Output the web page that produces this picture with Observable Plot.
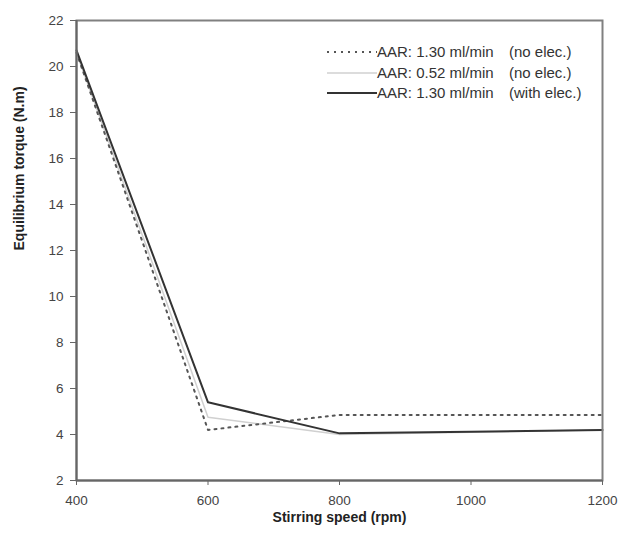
<!DOCTYPE html>
<html><head><meta charset="utf-8">
<script src="https://cdn.jsdelivr.net/npm/d3@7"></script>
<script src="https://cdn.jsdelivr.net/npm/@observablehq/plot@0.6"></script>
<style>
body{margin:0;background:#fff;}
#wrap{position:relative;width:618px;height:536px;font-family:"Liberation Sans",Arial,sans-serif;}
#legend{position:absolute;left:327px;top:42px;font-size:15px;color:#333;line-height:20.5px;}
#legend .row{display:flex;align-items:center;white-space:nowrap;}
#legend svg{width:50px;height:10px;display:block;}
#legend .a{width:132px;}
</style></head><body><div id="wrap"></div>
<script>
const speeds = [400, 600, 800, 1000, 1200];
const aar130NoElec = [20.6, 4.2, 4.85, 4.85, 4.85];
const aar052NoElec = [20.6, 4.75, 4.0, 4.1, 4.2];
const aar130WithElec = [20.7, 5.4, 4.05, 4.12, 4.2];
const seriesNames = ["AAR: 1.30 ml/min", "AAR: 0.52 ml/min", "AAR: 1.30 ml/min"];
const seriesNotes = ["(no elec.)", "(no elec.)", "(with elec.)"];
const xTicks = [400, 600, 800, 1000, 1200];
const yTicks = [2, 4, 6, 8, 10, 12, 14, 16, 18, 20, 22];
const xTitle = "Stirring speed (rpm)";
const yTitle = "Equilibrium torque (N.m)";

const styles = [
  {stroke: "#555", strokeWidth: 2, strokeDasharray: "2,5"},
  {stroke: "#d0d0d0", strokeWidth: 1.5},
  {stroke: "#333", strokeWidth: 2}
];
const seriesValues = [aar130NoElec, aar052NoElec, aar130WithElec];
const table = seriesValues.map(vals => speeds.map((s, i) => ({x: s, y: vals[i]})));

const chart = Plot.plot({
  width: 618,
  height: 536,
  marginLeft: 76,
  marginRight: 16,
  marginTop: 20,
  marginBottom: 56,
  style: {fontFamily: "'Liberation Sans', Arial, sans-serif", background: "#fff"},
  x: {domain: [400, 1200]},
  y: {domain: [2, 22]},
  marks: [
    Plot.line(table[1], {x: "x", y: "y", ...styles[1]}),
    Plot.line(table[0], {x: "x", y: "y", ...styles[0]}),
    Plot.line(table[2], {x: "x", y: "y", ...styles[2]}),
    Plot.frame({stroke: "#808080", strokeWidth: 2}),
    Plot.ruleX([400], {stroke: "#666", strokeWidth: 2}),
    Plot.ruleY([2], {stroke: "#666", strokeWidth: 2}),
    Plot.axisX({ticks: xTicks, tickSize: 5, tickPadding: 10, fontSize: 13.5, label: null, stroke: "#666", color: "#444", tickFormat: d => String(d)}),
    Plot.axisY({ticks: yTicks, tickSize: 6, tickPadding: 7, fontSize: 13.5, label: null, stroke: "#666", color: "#444", tickFormat: d => String(d)}),
    Plot.text([xTitle], {frameAnchor: "bottom", dy: 41, fontWeight: "bold", fontSize: 14, fill: "#222"}),
    Plot.text([yTitle], {frameAnchor: "left", dx: -57, rotate: -90, fontWeight: "bold", fontSize: 14, fill: "#222"})
  ]
});
const wrap = document.getElementById("wrap");
wrap.appendChild(chart);

const legend = document.createElement("div");
legend.id = "legend";
seriesNames.forEach((name, i) => {
  const row = document.createElement("div");
  row.className = "row";
  const st = styles[i];
  row.innerHTML = `<svg><line x1="0" x2="50" y1="5" y2="5" stroke="${st.stroke}" stroke-width="${st.strokeWidth}" ${st.strokeDasharray ? `stroke-dasharray="${st.strokeDasharray}"` : ""}/></svg><span class="a">${name}</span><span>${seriesNotes[i]}</span>`;
  legend.appendChild(row);
});
wrap.appendChild(legend);
</script>
</body></html>
